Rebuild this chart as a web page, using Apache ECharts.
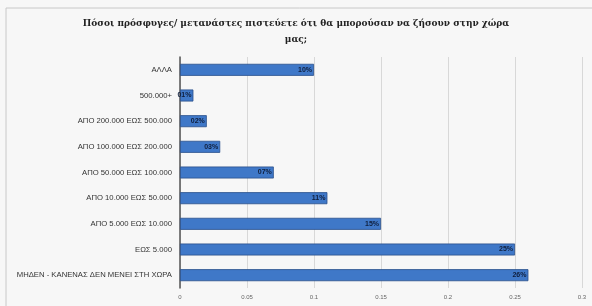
<!DOCTYPE html>
<html>
<head>
<meta charset="utf-8">
<script src="https://cdn.jsdelivr.net/npm/echarts@6/dist/echarts.min.js"></script>
<style>
  html, body { margin: 0; padding: 0; background: #f3f3f3; }
  #chart { width: 592px; height: 306px; }
</style>
</head>
<body>
<div id="chart"></div>
<script>
// κατηγορίες από πάνω προς τα κάτω
var categories = [
  'ΑΛΛΑ',
  '500.000+',
  'ΑΠΟ 200.000 ΕΩΣ 500.000',
  'ΑΠΟ 100.000 ΕΩΣ 200.000',
  'ΑΠΟ 50.000 ΕΩΣ 100.000',
  'ΑΠΟ 10.000 ΕΩΣ 50.000',
  'ΑΠΟ 5.000 ΕΩΣ 10.000',
  'ΕΩΣ 5.000',
  'ΜΗΔΕΝ - ΚΑΝΕΝΑΣ ΔΕΝ ΜΕΝΕΙ ΣΤΗ ΧΩΡΑ'
];
var values = [0.10, 0.01, 0.02, 0.03, 0.07, 0.11, 0.15, 0.25, 0.26];
var labels = ['10%', '01%', '02%', '03%', '07%', '11%', '15%', '25%', '26%'];
var xTicks = ['0', '0.05', '0.1', '0.15', '0.2', '0.25', '0.3'];

var myChart = echarts.init(document.getElementById('chart'));

var option = {
  backgroundColor: '#f7f7f7',
  animation: false,
  title: {
    text: 'Πόσοι πρόσφυγες/ μετανάστες πιστεύετε ότι θα μπορούσαν να ζήσουν στην χώρα\nμας;',
    left: 'center',
    top: 11,
    textStyle: {
      fontFamily: 'DejaVu Serif',
      fontSize: 9,
      fontWeight: 'bold',
      color: '#222',
      lineHeight: 16
    }
  },
  graphic: [{
    type: 'rect',
    shape: { x: 6, y: 8, width: 600, height: 310 },
    style: { fill: 'none', stroke: '#c8c8c8', lineWidth: 1 },
    silent: true
  }],
  grid: { left: 180, right: 10, top: 57, bottom: 18 },
  xAxis: {
    type: 'value',
    min: 0,
    max: 0.3,
    interval: 0.05,
    axisLine: { show: false },
    axisTick: { show: false },
    splitLine: { lineStyle: { color: '#d8d8d8' } },
    axisLabel: {
      fontSize: 6,
      fontFamily: 'Liberation Sans',
      color: '#666',
      margin: 6,
      formatter: function (v) {
        var i = Math.round(v / 0.05);
        return xTicks[i];
      }
    }
  },
  yAxis: {
    type: 'category',
    inverse: true,
    data: categories,
    axisLine: { lineStyle: { color: '#555', width: 1.5 } },
    axisTick: { show: false },
    axisLabel: { fontSize: 7.7, color: '#333', margin: 8, fontFamily: 'Liberation Sans' }
  },
  series: [{
    type: 'bar',
    data: values,
    barWidth: 12,
    itemStyle: {
      color: '#3f78c8',
      borderColor: '#2a4f8a',
      borderWidth: 0.8
    },
    label: {
      show: true,
      position: 'insideRight',
      distance: 2,
      fontSize: 7,
      fontFamily: 'Liberation Sans',
      fontWeight: 'bold',
      color: '#0f1e3c',
      formatter: function (p) { return labels[p.dataIndex]; }
    }
  }]
};

myChart.setOption(option);
</script>
</body>
</html>
